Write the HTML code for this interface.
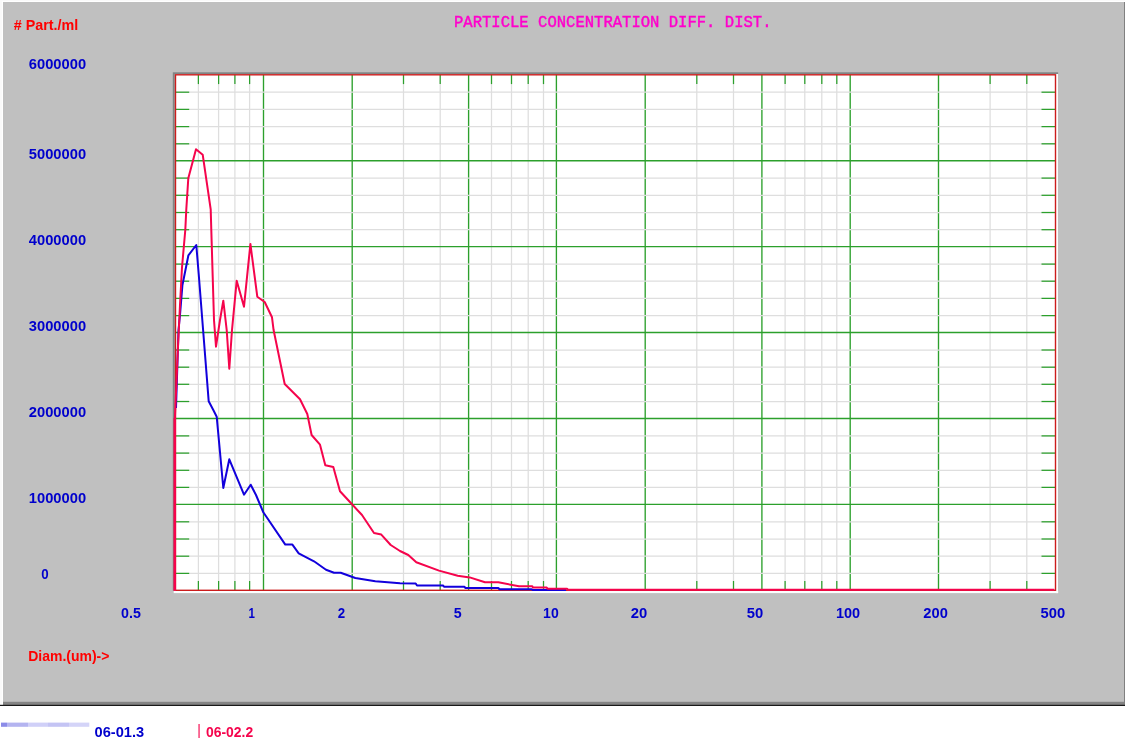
<!DOCTYPE html><html><head><meta charset="utf-8"><title>chart</title><style>html,body{margin:0;padding:0;background:#fff;overflow:hidden}svg{display:block}</style></head><body><svg width="1125" height="750" viewBox="0 0 1125 750">
<rect x="0" y="0" width="1125" height="750" fill="#fff"/>
<rect x="0" y="0" width="1125" height="1" fill="#fafafa"/>
<rect x="0" y="0" width="2" height="704" fill="#fafafa"/>
<rect x="3" y="2" width="1122" height="703" fill="#c0c0c0"/>
<rect x="3" y="701.8" width="1122" height="3.1" fill="#848484"/>
<rect x="1124" y="2" width="1" height="702" fill="#808080"/>
<rect x="0" y="704.8" width="1125" height="1.1" fill="#000"/>
<rect x="172.8" y="72.3" width="885.3" height="518.6" fill="#808484"/>
<rect x="173.7" y="590.8" width="884.4" height="2.3" fill="#fcfefe"/>
<rect x="1056" y="74" width="2.1" height="519.1" fill="#fcfefe"/>
<rect x="174.8" y="74" width="881.4" height="517" fill="#fff"/>
<line x1="198.4" y1="74.8" x2="198.4" y2="590.3" stroke="#dedede" stroke-width="1.25"/>
<line x1="218.6" y1="74.8" x2="218.6" y2="590.3" stroke="#dedede" stroke-width="1.25"/>
<line x1="234.9" y1="74.8" x2="234.9" y2="590.3" stroke="#dedede" stroke-width="1.25"/>
<line x1="249.6" y1="74.8" x2="249.6" y2="590.3" stroke="#dedede" stroke-width="1.25"/>
<line x1="403.5" y1="74.8" x2="403.5" y2="590.3" stroke="#dedede" stroke-width="1.25"/>
<line x1="440.2" y1="74.8" x2="440.2" y2="590.3" stroke="#dedede" stroke-width="1.25"/>
<line x1="491.5" y1="74.8" x2="491.5" y2="590.3" stroke="#dedede" stroke-width="1.25"/>
<line x1="511.5" y1="74.8" x2="511.5" y2="590.3" stroke="#dedede" stroke-width="1.25"/>
<line x1="528.2" y1="74.8" x2="528.2" y2="590.3" stroke="#dedede" stroke-width="1.25"/>
<line x1="543.5" y1="74.8" x2="543.5" y2="590.3" stroke="#dedede" stroke-width="1.25"/>
<line x1="696.8" y1="74.8" x2="696.8" y2="590.3" stroke="#dedede" stroke-width="1.25"/>
<line x1="733.5" y1="74.8" x2="733.5" y2="590.3" stroke="#dedede" stroke-width="1.25"/>
<line x1="785.1" y1="74.8" x2="785.1" y2="590.3" stroke="#dedede" stroke-width="1.25"/>
<line x1="804.8" y1="74.8" x2="804.8" y2="590.3" stroke="#dedede" stroke-width="1.25"/>
<line x1="821.8" y1="74.8" x2="821.8" y2="590.3" stroke="#dedede" stroke-width="1.25"/>
<line x1="836.8" y1="74.8" x2="836.8" y2="590.3" stroke="#dedede" stroke-width="1.25"/>
<line x1="990.1" y1="74.8" x2="990.1" y2="590.3" stroke="#dedede" stroke-width="1.25"/>
<line x1="1026.8" y1="74.8" x2="1026.8" y2="590.3" stroke="#dedede" stroke-width="1.25"/>
<line x1="198.4" y1="74.8" x2="198.4" y2="84.1" stroke="#2ca02c" stroke-width="1.25"/>
<line x1="198.4" y1="581.0" x2="198.4" y2="590.3" stroke="#2ca02c" stroke-width="1.25"/>
<line x1="218.6" y1="74.8" x2="218.6" y2="84.1" stroke="#2ca02c" stroke-width="1.25"/>
<line x1="218.6" y1="581.0" x2="218.6" y2="590.3" stroke="#2ca02c" stroke-width="1.25"/>
<line x1="234.9" y1="74.8" x2="234.9" y2="84.1" stroke="#2ca02c" stroke-width="1.25"/>
<line x1="234.9" y1="581.0" x2="234.9" y2="590.3" stroke="#2ca02c" stroke-width="1.25"/>
<line x1="249.6" y1="74.8" x2="249.6" y2="84.1" stroke="#2ca02c" stroke-width="1.25"/>
<line x1="249.6" y1="581.0" x2="249.6" y2="590.3" stroke="#2ca02c" stroke-width="1.25"/>
<line x1="403.5" y1="74.8" x2="403.5" y2="84.1" stroke="#2ca02c" stroke-width="1.25"/>
<line x1="403.5" y1="581.0" x2="403.5" y2="590.3" stroke="#2ca02c" stroke-width="1.25"/>
<line x1="440.2" y1="74.8" x2="440.2" y2="84.1" stroke="#2ca02c" stroke-width="1.25"/>
<line x1="440.2" y1="581.0" x2="440.2" y2="590.3" stroke="#2ca02c" stroke-width="1.25"/>
<line x1="491.5" y1="74.8" x2="491.5" y2="84.1" stroke="#2ca02c" stroke-width="1.25"/>
<line x1="491.5" y1="581.0" x2="491.5" y2="590.3" stroke="#2ca02c" stroke-width="1.25"/>
<line x1="511.5" y1="74.8" x2="511.5" y2="84.1" stroke="#2ca02c" stroke-width="1.25"/>
<line x1="511.5" y1="581.0" x2="511.5" y2="590.3" stroke="#2ca02c" stroke-width="1.25"/>
<line x1="528.2" y1="74.8" x2="528.2" y2="84.1" stroke="#2ca02c" stroke-width="1.25"/>
<line x1="528.2" y1="581.0" x2="528.2" y2="590.3" stroke="#2ca02c" stroke-width="1.25"/>
<line x1="543.5" y1="74.8" x2="543.5" y2="84.1" stroke="#2ca02c" stroke-width="1.25"/>
<line x1="543.5" y1="581.0" x2="543.5" y2="590.3" stroke="#2ca02c" stroke-width="1.25"/>
<line x1="696.8" y1="74.8" x2="696.8" y2="84.1" stroke="#2ca02c" stroke-width="1.25"/>
<line x1="696.8" y1="581.0" x2="696.8" y2="590.3" stroke="#2ca02c" stroke-width="1.25"/>
<line x1="733.5" y1="74.8" x2="733.5" y2="84.1" stroke="#2ca02c" stroke-width="1.25"/>
<line x1="733.5" y1="581.0" x2="733.5" y2="590.3" stroke="#2ca02c" stroke-width="1.25"/>
<line x1="785.1" y1="74.8" x2="785.1" y2="84.1" stroke="#2ca02c" stroke-width="1.25"/>
<line x1="785.1" y1="581.0" x2="785.1" y2="590.3" stroke="#2ca02c" stroke-width="1.25"/>
<line x1="804.8" y1="74.8" x2="804.8" y2="84.1" stroke="#2ca02c" stroke-width="1.25"/>
<line x1="804.8" y1="581.0" x2="804.8" y2="590.3" stroke="#2ca02c" stroke-width="1.25"/>
<line x1="821.8" y1="74.8" x2="821.8" y2="84.1" stroke="#2ca02c" stroke-width="1.25"/>
<line x1="821.8" y1="581.0" x2="821.8" y2="590.3" stroke="#2ca02c" stroke-width="1.25"/>
<line x1="836.8" y1="74.8" x2="836.8" y2="84.1" stroke="#2ca02c" stroke-width="1.25"/>
<line x1="836.8" y1="581.0" x2="836.8" y2="590.3" stroke="#2ca02c" stroke-width="1.25"/>
<line x1="990.1" y1="74.8" x2="990.1" y2="84.1" stroke="#2ca02c" stroke-width="1.25"/>
<line x1="990.1" y1="581.0" x2="990.1" y2="590.3" stroke="#2ca02c" stroke-width="1.25"/>
<line x1="1026.8" y1="74.8" x2="1026.8" y2="84.1" stroke="#2ca02c" stroke-width="1.25"/>
<line x1="1026.8" y1="581.0" x2="1026.8" y2="590.3" stroke="#2ca02c" stroke-width="1.25"/>
<line x1="263.5" y1="74.8" x2="263.5" y2="590.3" stroke="#2ca02c" stroke-width="1.35"/>
<line x1="352.2" y1="74.8" x2="352.2" y2="590.3" stroke="#2ca02c" stroke-width="1.35"/>
<line x1="468.6" y1="74.8" x2="468.6" y2="590.3" stroke="#2ca02c" stroke-width="1.35"/>
<line x1="556.4" y1="74.8" x2="556.4" y2="590.3" stroke="#2ca02c" stroke-width="1.35"/>
<line x1="645.2" y1="74.8" x2="645.2" y2="590.3" stroke="#2ca02c" stroke-width="1.35"/>
<line x1="761.9" y1="74.8" x2="761.9" y2="590.3" stroke="#2ca02c" stroke-width="1.35"/>
<line x1="850.2" y1="74.8" x2="850.2" y2="590.3" stroke="#2ca02c" stroke-width="1.35"/>
<line x1="938.5" y1="74.8" x2="938.5" y2="590.3" stroke="#2ca02c" stroke-width="1.35"/>
<line x1="175.5" y1="573.4" x2="1055.5" y2="573.4" stroke="#dedede" stroke-width="1.25"/>
<line x1="175.5" y1="556.2" x2="1055.5" y2="556.2" stroke="#dedede" stroke-width="1.25"/>
<line x1="175.5" y1="539.0" x2="1055.5" y2="539.0" stroke="#dedede" stroke-width="1.25"/>
<line x1="175.5" y1="521.8" x2="1055.5" y2="521.8" stroke="#dedede" stroke-width="1.25"/>
<line x1="175.5" y1="487.4" x2="1055.5" y2="487.4" stroke="#dedede" stroke-width="1.25"/>
<line x1="175.5" y1="470.3" x2="1055.5" y2="470.3" stroke="#dedede" stroke-width="1.25"/>
<line x1="175.5" y1="453.1" x2="1055.5" y2="453.1" stroke="#dedede" stroke-width="1.25"/>
<line x1="175.5" y1="435.9" x2="1055.5" y2="435.9" stroke="#dedede" stroke-width="1.25"/>
<line x1="175.5" y1="401.5" x2="1055.5" y2="401.5" stroke="#dedede" stroke-width="1.25"/>
<line x1="175.5" y1="384.3" x2="1055.5" y2="384.3" stroke="#dedede" stroke-width="1.25"/>
<line x1="175.5" y1="367.2" x2="1055.5" y2="367.2" stroke="#dedede" stroke-width="1.25"/>
<line x1="175.5" y1="350.0" x2="1055.5" y2="350.0" stroke="#dedede" stroke-width="1.25"/>
<line x1="175.5" y1="315.6" x2="1055.5" y2="315.6" stroke="#dedede" stroke-width="1.25"/>
<line x1="175.5" y1="298.4" x2="1055.5" y2="298.4" stroke="#dedede" stroke-width="1.25"/>
<line x1="175.5" y1="281.2" x2="1055.5" y2="281.2" stroke="#dedede" stroke-width="1.25"/>
<line x1="175.5" y1="264.1" x2="1055.5" y2="264.1" stroke="#dedede" stroke-width="1.25"/>
<line x1="175.5" y1="229.7" x2="1055.5" y2="229.7" stroke="#dedede" stroke-width="1.25"/>
<line x1="175.5" y1="212.5" x2="1055.5" y2="212.5" stroke="#dedede" stroke-width="1.25"/>
<line x1="175.5" y1="195.3" x2="1055.5" y2="195.3" stroke="#dedede" stroke-width="1.25"/>
<line x1="175.5" y1="178.1" x2="1055.5" y2="178.1" stroke="#dedede" stroke-width="1.25"/>
<line x1="175.5" y1="143.8" x2="1055.5" y2="143.8" stroke="#dedede" stroke-width="1.25"/>
<line x1="175.5" y1="126.6" x2="1055.5" y2="126.6" stroke="#dedede" stroke-width="1.25"/>
<line x1="175.5" y1="109.4" x2="1055.5" y2="109.4" stroke="#dedede" stroke-width="1.25"/>
<line x1="175.5" y1="92.2" x2="1055.5" y2="92.2" stroke="#dedede" stroke-width="1.25"/>
<line x1="175.5" y1="573.4" x2="189.2" y2="573.4" stroke="#2ca02c" stroke-width="1.25"/>
<line x1="1041.5" y1="573.4" x2="1055.5" y2="573.4" stroke="#2ca02c" stroke-width="1.25"/>
<line x1="175.5" y1="556.2" x2="189.2" y2="556.2" stroke="#2ca02c" stroke-width="1.25"/>
<line x1="1041.5" y1="556.2" x2="1055.5" y2="556.2" stroke="#2ca02c" stroke-width="1.25"/>
<line x1="175.5" y1="539.0" x2="189.2" y2="539.0" stroke="#2ca02c" stroke-width="1.25"/>
<line x1="1041.5" y1="539.0" x2="1055.5" y2="539.0" stroke="#2ca02c" stroke-width="1.25"/>
<line x1="175.5" y1="521.8" x2="189.2" y2="521.8" stroke="#2ca02c" stroke-width="1.25"/>
<line x1="1041.5" y1="521.8" x2="1055.5" y2="521.8" stroke="#2ca02c" stroke-width="1.25"/>
<line x1="175.5" y1="487.4" x2="189.2" y2="487.4" stroke="#2ca02c" stroke-width="1.25"/>
<line x1="1041.5" y1="487.4" x2="1055.5" y2="487.4" stroke="#2ca02c" stroke-width="1.25"/>
<line x1="175.5" y1="470.3" x2="189.2" y2="470.3" stroke="#2ca02c" stroke-width="1.25"/>
<line x1="1041.5" y1="470.3" x2="1055.5" y2="470.3" stroke="#2ca02c" stroke-width="1.25"/>
<line x1="175.5" y1="453.1" x2="189.2" y2="453.1" stroke="#2ca02c" stroke-width="1.25"/>
<line x1="1041.5" y1="453.1" x2="1055.5" y2="453.1" stroke="#2ca02c" stroke-width="1.25"/>
<line x1="175.5" y1="435.9" x2="189.2" y2="435.9" stroke="#2ca02c" stroke-width="1.25"/>
<line x1="1041.5" y1="435.9" x2="1055.5" y2="435.9" stroke="#2ca02c" stroke-width="1.25"/>
<line x1="175.5" y1="401.5" x2="189.2" y2="401.5" stroke="#2ca02c" stroke-width="1.25"/>
<line x1="1041.5" y1="401.5" x2="1055.5" y2="401.5" stroke="#2ca02c" stroke-width="1.25"/>
<line x1="175.5" y1="384.3" x2="189.2" y2="384.3" stroke="#2ca02c" stroke-width="1.25"/>
<line x1="1041.5" y1="384.3" x2="1055.5" y2="384.3" stroke="#2ca02c" stroke-width="1.25"/>
<line x1="175.5" y1="367.2" x2="189.2" y2="367.2" stroke="#2ca02c" stroke-width="1.25"/>
<line x1="1041.5" y1="367.2" x2="1055.5" y2="367.2" stroke="#2ca02c" stroke-width="1.25"/>
<line x1="175.5" y1="350.0" x2="189.2" y2="350.0" stroke="#2ca02c" stroke-width="1.25"/>
<line x1="1041.5" y1="350.0" x2="1055.5" y2="350.0" stroke="#2ca02c" stroke-width="1.25"/>
<line x1="175.5" y1="315.6" x2="189.2" y2="315.6" stroke="#2ca02c" stroke-width="1.25"/>
<line x1="1041.5" y1="315.6" x2="1055.5" y2="315.6" stroke="#2ca02c" stroke-width="1.25"/>
<line x1="175.5" y1="298.4" x2="189.2" y2="298.4" stroke="#2ca02c" stroke-width="1.25"/>
<line x1="1041.5" y1="298.4" x2="1055.5" y2="298.4" stroke="#2ca02c" stroke-width="1.25"/>
<line x1="175.5" y1="281.2" x2="189.2" y2="281.2" stroke="#2ca02c" stroke-width="1.25"/>
<line x1="1041.5" y1="281.2" x2="1055.5" y2="281.2" stroke="#2ca02c" stroke-width="1.25"/>
<line x1="175.5" y1="264.1" x2="189.2" y2="264.1" stroke="#2ca02c" stroke-width="1.25"/>
<line x1="1041.5" y1="264.1" x2="1055.5" y2="264.1" stroke="#2ca02c" stroke-width="1.25"/>
<line x1="175.5" y1="229.7" x2="189.2" y2="229.7" stroke="#2ca02c" stroke-width="1.25"/>
<line x1="1041.5" y1="229.7" x2="1055.5" y2="229.7" stroke="#2ca02c" stroke-width="1.25"/>
<line x1="175.5" y1="212.5" x2="189.2" y2="212.5" stroke="#2ca02c" stroke-width="1.25"/>
<line x1="1041.5" y1="212.5" x2="1055.5" y2="212.5" stroke="#2ca02c" stroke-width="1.25"/>
<line x1="175.5" y1="195.3" x2="189.2" y2="195.3" stroke="#2ca02c" stroke-width="1.25"/>
<line x1="1041.5" y1="195.3" x2="1055.5" y2="195.3" stroke="#2ca02c" stroke-width="1.25"/>
<line x1="175.5" y1="178.1" x2="189.2" y2="178.1" stroke="#2ca02c" stroke-width="1.25"/>
<line x1="1041.5" y1="178.1" x2="1055.5" y2="178.1" stroke="#2ca02c" stroke-width="1.25"/>
<line x1="175.5" y1="143.8" x2="189.2" y2="143.8" stroke="#2ca02c" stroke-width="1.25"/>
<line x1="1041.5" y1="143.8" x2="1055.5" y2="143.8" stroke="#2ca02c" stroke-width="1.25"/>
<line x1="175.5" y1="126.6" x2="189.2" y2="126.6" stroke="#2ca02c" stroke-width="1.25"/>
<line x1="1041.5" y1="126.6" x2="1055.5" y2="126.6" stroke="#2ca02c" stroke-width="1.25"/>
<line x1="175.5" y1="109.4" x2="189.2" y2="109.4" stroke="#2ca02c" stroke-width="1.25"/>
<line x1="1041.5" y1="109.4" x2="1055.5" y2="109.4" stroke="#2ca02c" stroke-width="1.25"/>
<line x1="175.5" y1="92.2" x2="189.2" y2="92.2" stroke="#2ca02c" stroke-width="1.25"/>
<line x1="1041.5" y1="92.2" x2="1055.5" y2="92.2" stroke="#2ca02c" stroke-width="1.25"/>
<line x1="175.5" y1="504.4" x2="1055.5" y2="504.4" stroke="#2ca02c" stroke-width="1.35"/>
<line x1="175.5" y1="418.5" x2="1055.5" y2="418.5" stroke="#2ca02c" stroke-width="1.35"/>
<line x1="175.5" y1="332.5" x2="1055.5" y2="332.5" stroke="#2ca02c" stroke-width="1.35"/>
<line x1="175.5" y1="246.6" x2="1055.5" y2="246.6" stroke="#2ca02c" stroke-width="1.35"/>
<line x1="175.5" y1="160.7" x2="1055.5" y2="160.7" stroke="#2ca02c" stroke-width="1.35"/>
<rect x="175.5" y="74.8" width="880.0" height="515.5" fill="none" stroke="#cc1c1c" stroke-width="1.4"/>
<polyline fill="none" stroke="#1200dc" stroke-width="2" stroke-linejoin="round" points="176,408 178.5,330 180,315 182.4,285.3 188.4,255.3 196.3,245 198.7,274 203.1,330 208.7,401.3 213.3,410 216.7,416.7 223.3,488 229.3,459.3 244,494.7 250.7,484.7 256,495 263.3,512.3 285.3,544.6 292.4,544.6 298.7,553.3 314,561.3 326,569.7 334,572.7 340.7,572.7 355.3,578 375.3,581.3 400,583.3 415.7,583.5 417,585.5 443,585.5 444,586.7 464.3,586.7 465.5,588 498.3,588 499.5,589.3 531.7,589.3 533,590 566,590"/>
<polyline fill="none" stroke="#f5044c" stroke-width="2" stroke-linejoin="round" points="174.8,590.8 174.8,420 176.4,384 178,346.7 180,304.7 182,267.3 185.3,230 186.3,209.3 188.3,178.3 196,149.3 202.7,154.7 210.7,209.3 211.3,230 212.7,276.7 214,320 216,346.7 220,320 223.3,300.7 226.7,330 229.3,368.7 232,330 236.7,280.7 244,306.7 250.4,244 257.3,296.7 264.7,302 272,317.3 273.6,330 284.7,384 300,399.3 307.3,414 311.6,435 320,444.7 325.3,465.3 333.3,467 340,491.3 352,504.3 362,515 374,533 381.3,534.6 390.7,545 400,551 408.3,555 416.3,562.3 439,570.6 457.7,575.7 469.7,577.4 485,582.3 498.3,582.3 519,586.3 532.3,586.3 533,587.6 546.7,587.6 547.5,588.7 567,588.7 568,589.75 1054.2,589.75"/>
<line x1="174.8" y1="418" x2="174.8" y2="590.8" stroke="#f5044c" stroke-width="2.4"/>
<text stroke="#ff00cc" stroke-width="0.45" x="454" y="27" fill="#ff00cc" font-family="'Liberation Mono', monospace" font-weight="normal" font-size="16.9" textLength="317.5" lengthAdjust="spacingAndGlyphs" text-anchor="start">PARTICLE CONCENTRATION DIFF. DIST.</text>
<text x="13.8" y="30.0" fill="#ff0000" font-family="'Liberation Sans', sans-serif" font-weight="bold" font-size="14.4" textLength="64.5" lengthAdjust="spacingAndGlyphs" text-anchor="start"># Part./ml</text>
<text x="28.8" y="69.2" fill="#0000cc" font-family="'Liberation Sans', sans-serif" font-weight="bold" font-size="15.2" textLength="57.3" lengthAdjust="spacingAndGlyphs" text-anchor="start">6000000</text>
<text x="28.8" y="159.2" fill="#0000cc" font-family="'Liberation Sans', sans-serif" font-weight="bold" font-size="15.2" textLength="57.3" lengthAdjust="spacingAndGlyphs" text-anchor="start">5000000</text>
<text x="28.8" y="245.2" fill="#0000cc" font-family="'Liberation Sans', sans-serif" font-weight="bold" font-size="15.2" textLength="57.3" lengthAdjust="spacingAndGlyphs" text-anchor="start">4000000</text>
<text x="28.8" y="331.2" fill="#0000cc" font-family="'Liberation Sans', sans-serif" font-weight="bold" font-size="15.2" textLength="57.3" lengthAdjust="spacingAndGlyphs" text-anchor="start">3000000</text>
<text x="28.8" y="417.2" fill="#0000cc" font-family="'Liberation Sans', sans-serif" font-weight="bold" font-size="15.2" textLength="57.3" lengthAdjust="spacingAndGlyphs" text-anchor="start">2000000</text>
<text x="28.8" y="503.2" fill="#0000cc" font-family="'Liberation Sans', sans-serif" font-weight="bold" font-size="15.2" textLength="57.3" lengthAdjust="spacingAndGlyphs" text-anchor="start">1000000</text>
<text x="41.2" y="579.3" fill="#0000cc" font-family="'Liberation Sans', sans-serif" font-weight="bold" font-size="15.2" textLength="7.4" lengthAdjust="spacingAndGlyphs" text-anchor="start">0</text>
<text x="28.2" y="660.8" fill="#ff0000" font-family="'Liberation Sans', sans-serif" font-weight="bold" font-size="15.2" textLength="81.2" lengthAdjust="spacingAndGlyphs" text-anchor="start">Diam.(um)-&gt;</text>
<text x="121.1" y="618.0" fill="#0000cc" font-family="'Liberation Sans', sans-serif" font-weight="bold" font-size="15.2" textLength="19.8" lengthAdjust="spacingAndGlyphs" text-anchor="start">0.5</text>
<text x="248.5" y="618.0" fill="#0000cc" font-family="'Liberation Sans', sans-serif" font-weight="bold" font-size="15.2" textLength="6.4" lengthAdjust="spacingAndGlyphs" text-anchor="start">1</text>
<text x="337.7" y="618.0" fill="#0000cc" font-family="'Liberation Sans', sans-serif" font-weight="bold" font-size="15.2" textLength="7.4" lengthAdjust="spacingAndGlyphs" text-anchor="start">2</text>
<text x="453.7" y="618.0" fill="#0000cc" font-family="'Liberation Sans', sans-serif" font-weight="bold" font-size="15.2" textLength="7.9" lengthAdjust="spacingAndGlyphs" text-anchor="start">5</text>
<text x="543.0999999999999" y="618.0" fill="#0000cc" font-family="'Liberation Sans', sans-serif" font-weight="bold" font-size="15.2" textLength="15.6" lengthAdjust="spacingAndGlyphs" text-anchor="start">10</text>
<text x="630.6999999999999" y="618.0" fill="#0000cc" font-family="'Liberation Sans', sans-serif" font-weight="bold" font-size="15.2" textLength="16.5" lengthAdjust="spacingAndGlyphs" text-anchor="start">20</text>
<text x="746.6999999999999" y="618.0" fill="#0000cc" font-family="'Liberation Sans', sans-serif" font-weight="bold" font-size="15.2" textLength="16.5" lengthAdjust="spacingAndGlyphs" text-anchor="start">50</text>
<text x="835.9" y="618.0" fill="#0000cc" font-family="'Liberation Sans', sans-serif" font-weight="bold" font-size="15.2" textLength="24.2" lengthAdjust="spacingAndGlyphs" text-anchor="start">100</text>
<text x="923.3" y="618.0" fill="#0000cc" font-family="'Liberation Sans', sans-serif" font-weight="bold" font-size="15.2" textLength="24.5" lengthAdjust="spacingAndGlyphs" text-anchor="start">200</text>
<text x="1040.6" y="618.0" fill="#0000cc" font-family="'Liberation Sans', sans-serif" font-weight="bold" font-size="15.2" textLength="24.6" lengthAdjust="spacingAndGlyphs" text-anchor="start">500</text>
<rect x="1" y="722.6" width="6" height="4.2" fill="#8c8ce8"/>
<rect x="7" y="722.6" width="21" height="4.2" fill="#b4b4f0"/>
<rect x="28" y="722.6" width="20" height="4.2" fill="#d0d0f8"/>
<rect x="48" y="722.6" width="21" height="4.2" fill="#c4c4f4"/>
<rect x="69" y="722.6" width="20.299999999999997" height="4.2" fill="#d4d4f8"/>
<text x="94.6" y="737.2" fill="#0000cc" font-family="'Liberation Sans', sans-serif" font-weight="bold" font-size="14.6" textLength="49.6" lengthAdjust="spacingAndGlyphs" text-anchor="start">06-01.3</text>
<text x="197.3" y="735.3" fill="#f5044c" font-family="'Liberation Sans', sans-serif" font-weight="normal" font-size="14" textLength="3.6" lengthAdjust="spacingAndGlyphs" text-anchor="start">|</text>
<text x="206" y="737.2" fill="#f5044c" font-family="'Liberation Sans', sans-serif" font-weight="bold" font-size="14.6" textLength="47.2" lengthAdjust="spacingAndGlyphs" text-anchor="start">06-02.2</text>
</svg></body></html>
